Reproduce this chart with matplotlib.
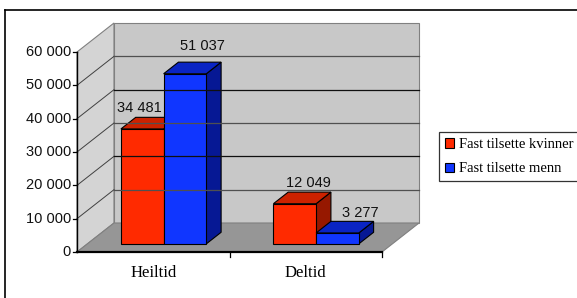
import matplotlib
matplotlib.use("Agg")
import matplotlib.pyplot as plt
from matplotlib.patches import Polygon, Patch

# ---- data ----
categories = ["Heiltid", "Deltid"]
series_names = ["Fast tilsette kvinner", "Fast tilsette menn"]
kvinner = [34481, 12049]
menn = [51037, 3277]
value_labels_k = ["34 481", "12 049"]
value_labels_m = ["51 037", "3 277"]
yticks = [0, 10000, 20000, 30000, 40000, 50000, 60000]
ytick_labels = ["0", "10 000", "20 000", "30 000", "40 000", "50 000", "60 000"]

# ---- style ----
W, H = 577, 298
fig = plt.figure(figsize=(W / 100, H / 100), dpi=100)
ax = fig.add_axes([0, 0, 1, 1])
PXU = 152.5            # pixels per category unit
PYU = 1 / 300.0        # pixels per value unit
X0PX, Y0PX = 77, 252
ax.set_xlim(-0.5 - X0PX / PXU, -0.5 + (W - X0PX) / PXU)
ax.set_ylim(-(H - Y0PX) / PYU, Y0PX / PYU)
ax.axis("off")

DX = 37 / PXU
DY = 29 / PYU
YMAX = 60000
XL, XR = -0.5, 1.5


def P(x, y, d):
    return (x + d * DX, y + d * DY)


sans = "Liberation Sans"
serif = "Liberation Serif"

# outer frame
ax.plot([ax.get_xlim()[0] + 5 / PXU] * 2, [ax.get_ylim()[0] - 100, (Y0PX - 10) / PYU],
        color="black", lw=1.2, clip_on=False)
ax.plot([ax.get_xlim()[0] + 5 / PXU, ax.get_xlim()[1] + 1], [(Y0PX - 10) / PYU] * 2,
        color="black", lw=1.2, clip_on=False)

# walls
left_wall = Polygon([P(XL, 0, 0), P(XL, YMAX, 0), P(XL, YMAX, 1), P(XL, 0, 1)],
                    closed=True, facecolor="#d4d4d4", edgecolor="#808080", lw=0.8)
back_wall = Polygon([P(XL, 0, 1), P(XL, YMAX, 1), P(XR, YMAX, 1), P(XR, 0, 1)],
                    closed=True, facecolor="#c8c8c8", edgecolor="#808080", lw=0.8)
floor = Polygon([P(XL, 0, 0), P(XL, 0, 1), P(XR, 0, 1), P(XR, 0, 0)],
                closed=True, facecolor="#969696", edgecolor="#808080", lw=0.8)
for p in (left_wall, back_wall, floor):
    ax.add_patch(p)

# gridlines
for i, t in enumerate(yticks[1:-1]):
    c = "#101010" if i % 2 == 1 else "#505050"
    a, b = P(XL, t, 0), P(XL, t, 1)
    ax.plot([a[0], b[0]], [a[1], b[1]], color="#404040", lw=0.7)
    a, b = P(XL, t, 1), P(XR, t, 1)
    ax.plot([a[0], b[0]], [a[1], b[1]], color=c, lw=0.9)

# bars
d0, d1 = 0.28, 0.68
bw = 0.28
red = ("#ff2a00", "#cc2200", "#961800")
blue = ("#1036ff", "#0a24c4", "#061894")


def bar3d(xa, xb, v, cols):
    front = [P(xa, 0, d0), P(xa, v, d0), P(xb, v, d0), P(xb, 0, d0)]
    top = [P(xa, v, d0), P(xa, v, d1), P(xb, v, d1), P(xb, v, d0)]
    side = [P(xb, 0, d0), P(xb, v, d0), P(xb, v, d1), P(xb, 0, d1)]
    for poly, c in ((side, cols[2]), (top, cols[1]), (front, cols[0])):
        ax.add_patch(Polygon(poly, closed=True, facecolor=c, edgecolor="black", lw=0.8))


label_off = {("k", 0): (-18, 9.4), ("m", 0): (3, 16), ("k", 1): (-1, 9.4), ("m", 1): (8, 8.4)}
for i in range(len(categories)):
    bar3d(i - bw, i, kvinner[i], red)
    bar3d(i, i + bw, menn[i], blue)
    for key, xa, v, lab in (("k", i - bw, kvinner[i], value_labels_k[i]),
                            ("m", i, menn[i], value_labels_m[i])):
        ox, oy = label_off[(key, i)]
        ax.annotate(lab, P(xa + bw / 2, v, d1), xytext=(ox * 0.72, oy * 0.72),
                    textcoords="offset points", ha="center", va="center",
                    fontsize=10.5, family=sans, color="#111111")

# front axes
ax.plot([XL, XL], [0, YMAX], color="black", lw=1.0)
for t, lab in zip(yticks, ytick_labels):
    ax.plot([XL - 4 / PXU, XL], [t, t], color="black", lw=0.9)
    ax.text(XL - 6 / PXU, t, lab, ha="right", va="center", fontsize=10.5, family=sans,
            color="#111111")
ax.plot([XL, XR], [0, 0], color="black", lw=1.6)
for xt in (0.5, 1.5):
    ax.plot([xt, xt], [0, -5 / PYU], color="black", lw=0.9)
for i, c in enumerate(categories):
    ax.text(i, -21 / PYU, c, ha="center", va="center", fontsize=12, family=serif)

# legend
handles = [Patch(facecolor=red[0], edgecolor="black", lw=0.8),
           Patch(facecolor=blue[0], edgecolor="black", lw=0.8)]
leg = fig.legend(handles, series_names, loc="upper left",
                 bbox_to_anchor=(439 / W, 1 - 132 / H), borderaxespad=0,
                 frameon=True, fancybox=False, edgecolor="black",
                 prop={"family": serif, "size": 10.5},
                 handlelength=0.65, handleheight=0.65, handletextpad=0.35,
                 borderpad=0.4, labelspacing=0.8)
leg.get_frame().set_linewidth(0.9)

fig.savefig("out.png", dpi=100)
